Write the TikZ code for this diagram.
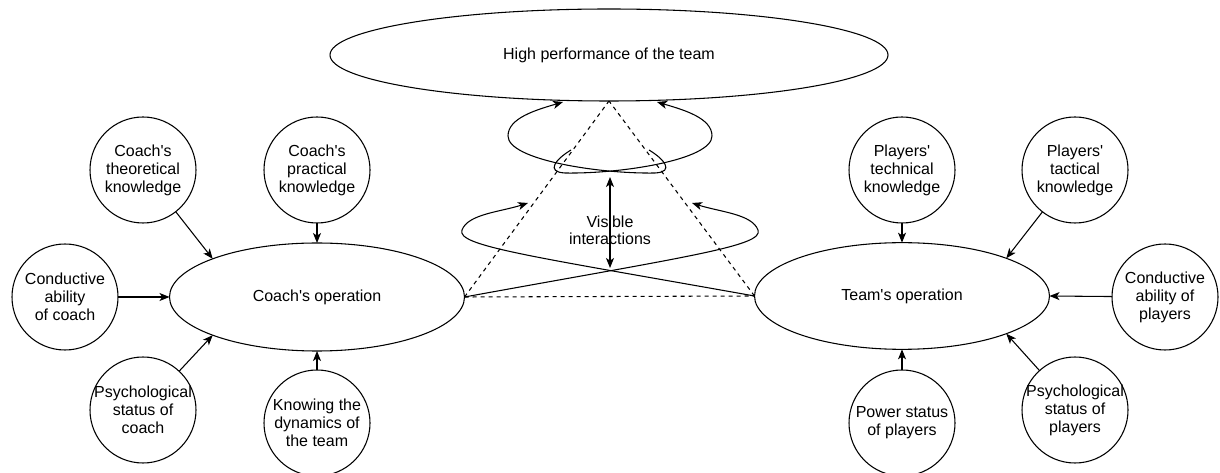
\documentclass[tikz,border=0pt]{standalone}
\usepackage{fontspec}
\setmainfont{Liberation Sans}
\usetikzlibrary{shapes.geometric,arrows.meta}
\newcommand{\ap}{\textquotesingle}
\begin{document}
\begin{tikzpicture}[x=0.75pt,y=-0.75pt,
  font=\fontsize{12}{13.5}\selectfont,
  ring/.style={circle,draw,line width=0.8pt,minimum size=79.5pt,inner sep=-14pt,outer sep=0pt,align=center},
  oval/.style={ellipse,draw,line width=0.8pt,inner sep=0pt,outer sep=0pt},
  link/.style={line width=0.8pt,-{Stealth[length=7.5pt,width=6pt,inset=2pt]}},
  twoway/.style={line width=0.8pt,{Stealth[length=7.5pt,width=6pt,inset=2pt]}-{Stealth[length=7.5pt,width=6pt,inset=2pt]}},
  guide/.style={line width=0.8pt,dash pattern=on 3pt off 3pt},
  caption/.style={align=center,font=\fontsize{12}{12.75}\selectfont,inner sep=0pt}
]
\useasboundingbox (0,0) rectangle (1220,473);

% main ellipses
\node[oval,minimum width=418.5pt,minimum height=69pt] (top) at (609,55) {High performance of the team};
\node[oval,minimum width=221.25pt,minimum height=81pt] (cop) at (317,297) {Coach\ap s operation};
\node[oval,minimum width=221.25pt,minimum height=80pt] (team) at (902,296) {Team\ap s operation};

% factors of the coach
\node[ring] (theo) at (143,170) {Coach\ap s\\theoretical\\knowledge};
\node[ring] (prac) at (317,170) {Coach\ap s\\practical\\knowledge};
\node[ring] (cond) at (65,297) {Conductive\\ability\\of coach};
\node[ring] (psy) at (143,410) {Psychological\\status of\\coach};
\node[ring] (know) at (317,423) {Knowing the\\dynamics of\\the team};

% factors of the players
\node[ring] (tech) at (902,170) {Players\ap\\technical\\knowledge};
\node[ring] (tact) at (1075,170) {Players\ap\\tactical\\knowledge};
\node[ring] (condp) at (1165,297) {Conductive\\ability of\\players};
\node[ring] (psyp) at (1075,410) {Psychological\\status of\\players};
\node[ring] (power) at (902,423) {Power status\\of players};

\draw[link] (theo) -- (cop.north west);
\draw[link] (prac) -- (cop.north);
\draw[link] (cond) -- (cop.west);
\draw[link] (psy) -- (cop.south west);
\draw[link] (know) -- (cop.south);

\draw[link] (tech) -- (team.north);
\draw[link] (tact) -- (team.north east);
\draw[link] (condp) -- (team.east);
\draw[link] (psyp) -- (team.south east);
\draw[link] (power) -- (team.south);

% dashed triangle
\draw[guide] (cop.east) -- (team.west);
\draw[guide] (cop.east) -- (top.south);
\draw[guide] (team.west) -- (top.south);

% visible interactions
\node[caption] (vis) at (610,230) {Visible\\interactions};
\coordinate (vitop) at (610,177);
\coordinate (vibot) at (610,268);
\draw[twoway] (vitop) -- (vibot);

% spiral turns
\coordinate (l1tip) at (692,203);
\coordinate (l2tip) at (528,203);
\coordinate (u1start) at (571,150);
\coordinate (u2start) at (649,150);
\coordinate (u1tip) at (657,102);
\coordinate (u2tip) at (563,102);

\draw[link] (cop.east) .. controls (690,256) and (764,246) .. (758,230)
  .. controls (752,214) and (720,212) .. (l1tip);
\draw[link] (team.west) .. controls (530,256) and (456,246) .. (462,230)
  .. controls (468,214) and (500,212) .. (l2tip);

\draw[link] (u1start) .. controls (556,159) and (545,172) .. (565,173)
  .. controls (620,174) and (712,160) .. (712,136)
  .. controls (712,118) and (684,110) .. (u1tip);
\draw[link] (u2start) .. controls (664,159) and (675,172) .. (655,173)
  .. controls (600,174) and (508,160) .. (508,136)
  .. controls (508,118) and (536,110) .. (u2tip);
\end{tikzpicture}
\end{document}
